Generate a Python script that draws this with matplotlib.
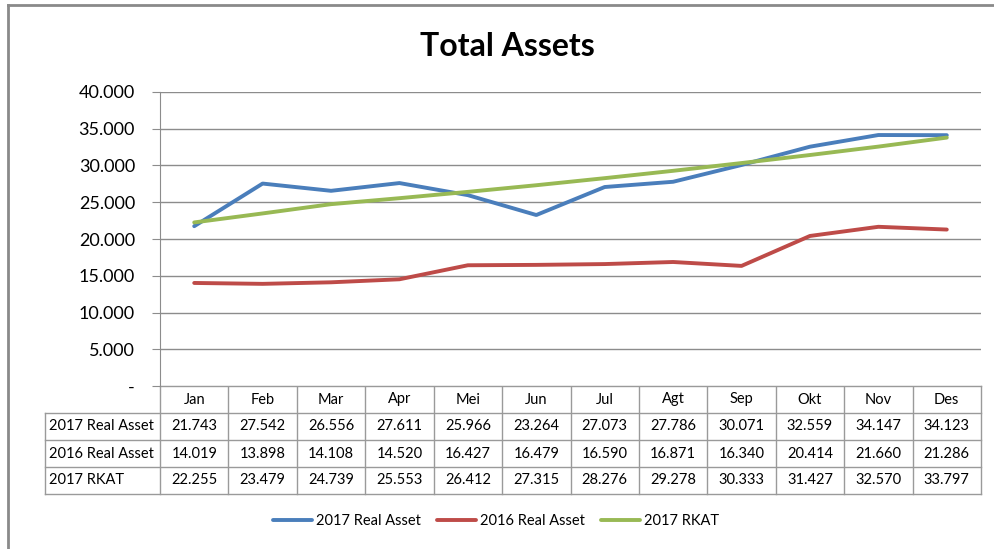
import matplotlib
matplotlib.use("Agg")
import matplotlib.pyplot as plt
from matplotlib.ticker import FuncFormatter

# ──────────────────────────────────────────
# DATA
# ──────────────────────────────────────────
months = ["Jan", "Feb", "Mar", "Apr", "Mei", "Jun", "Jul", "Agt", "Sep", "Okt", "Nov", "Des"]
series_names = ["2017 Real Asset", "2016 Real Asset", "2017 RKAT"]
real_2017 = [21743, 27542, 26556, 27611, 25966, 23264, 27073, 27786, 30071, 32559, 34147, 34123]
real_2016 = [14019, 13898, 14108, 14520, 16427, 16479, 16590, 16871, 16340, 20414, 21660, 21286]
rkat_2017 = [22255, 23479, 24739, 25553, 26412, 27315, 28276, 29278, 30333, 31427, 32570, 33797]
colors = ["#4A7EBB", "#BE4B48", "#98B954"]
y_ticks = [0, 5000, 10000, 15000, 20000, 25000, 30000, 35000, 40000]

plt.rcParams['font.family'] = ['Lato', 'DejaVu Sans']

W, H = 995, 549
GRID = "#8C8C8C"


def thousands(v, pos=None):
    if v == 0:
        return "-"
    return f"{int(v):,}".replace(",", ".")


fig = plt.figure(figsize=(W / 100, H / 100), dpi=100)

# background overlay in pixel coordinates (frame, table, title)
bg = fig.add_axes([0, 0, 1, 1])
bg.set_xlim(0, W)
bg.set_ylim(H, 0)
bg.axis("off")
bg.plot([8, 8], [5, H], color="#8A8A8A", lw=2)
bg.plot([8, W], [5, 5], color="#8A8A8A", lw=2)
bg.text(507, 46, "Total Assets", fontsize=23, fontweight="bold", ha="center", va="center")

# ──────────────────────────────────────────
# LINE CHART
# ──────────────────────────────────────────
x0, x1, ytop, ybot = 160, 981, 92, 386
ax = fig.add_axes([x0 / W, 1 - ybot / H, (x1 - x0) / W, (ybot - ytop) / H])
xs = list(range(len(months)))
for vals, name, c in zip([real_2017, real_2016, rkat_2017], series_names, colors):
    ax.plot(xs, vals, color=c, lw=2.8, label=name, solid_capstyle="round")

ax.set_xlim(-0.5, len(months) - 0.5)
ax.set_ylim(0, 40000)
ax.set_yticks(y_ticks)
ax.yaxis.set_major_formatter(FuncFormatter(thousands))
ax.set_xticks([])
ax.grid(axis="y", color=GRID, lw=1)
ax.set_axisbelow(True)
for s in ["top", "right", "bottom"]:
    ax.spines[s].set_visible(False)
ax.spines["left"].set_color(GRID)
ax.tick_params(axis="y", length=6, color=GRID, labelsize=13, pad=12)

# ──────────────────────────────────────────
# DATA TABLE
# ──────────────────────────────────────────
cw = (x1 - x0) / len(months)
row_h = 27
tx0 = 45
border = "#9A9A9A"
n_rows = len(series_names)
# header row
bg.plot([x0, x1], [ybot, ybot], color=border, lw=1)
for i, m in enumerate(months):
    bg.text(x0 + cw * (i + 0.5), ybot + row_h / 2, m, fontsize=10.5, ha="center", va="center")
for i in range(len(months) + 1):
    bg.plot([x0 + cw * i] * 2, [ybot, ybot + row_h * (n_rows + 1)], color=border, lw=1)
# data rows
for r in range(n_rows + 1):
    yy = ybot + row_h * (r + 1)
    bg.plot([tx0, x1], [yy, yy], color=border, lw=1)
bg.plot([tx0, tx0], [ybot + row_h, ybot + row_h * (n_rows + 1)], color=border, lw=1)
for r, (name, vals) in enumerate(zip(series_names, [real_2017, real_2016, rkat_2017])):
    yc = ybot + row_h * (r + 1.5)
    bg.text(tx0 + 4, yc, name, fontsize=10.5, ha="left", va="center")
    for i, v in enumerate(vals):
        bg.text(x0 + cw * (i + 0.5), yc, thousands(v), fontsize=10.5, ha="center", va="center")

# ──────────────────────────────────────────
# LEGEND
# ──────────────────────────────────────────
handles, labels = ax.get_legend_handles_labels()
fig.legend(handles, labels, loc="center", bbox_to_anchor=(496 / W, 1 - 521 / H), ncol=3,
           frameon=False, fontsize=10.5, handlelength=2.7, handletextpad=0.25, columnspacing=1.1)

fig.savefig("out.png", dpi=100)
